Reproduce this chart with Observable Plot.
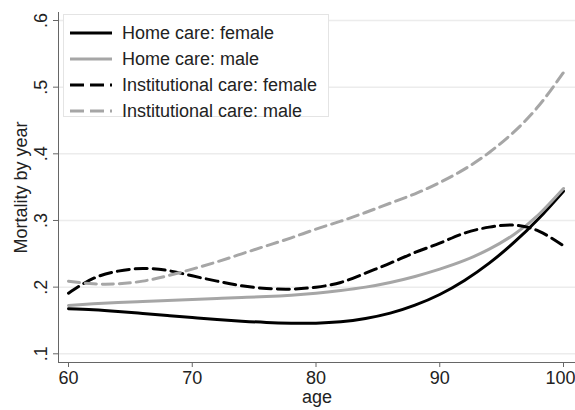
<!DOCTYPE html>
<html>
<head>
<meta charset="utf-8">
<script src="https://cdn.jsdelivr.net/npm/d3@7"></script>
<script src="https://cdn.jsdelivr.net/npm/@observablehq/plot@0.6"></script>
<style>
  body { margin: 0; background: #fff; }
  #wrap { position: relative; width: 575px; height: 410px; font-family: "Liberation Sans", Arial, sans-serif; }
  #legend { position: absolute; left: 63px; top: 14px; width: 266px; height: 103px; border: 1px solid #e4e4e4; background: #fff; box-sizing: border-box; padding-top: 5px; }
  .row { display: flex; align-items: center; height: 26px; font-size: 18px; color: #222; }
  .row svg { margin-left: 6px; margin-right: 10px; }
</style>
</head>
<body>
<div id="wrap"><div id="chart"></div><div id="legend"></div></div>
<script>
const ages = [60, 62, 64, 66, 68, 70, 72, 74, 76, 78, 80, 82, 84, 86, 88, 90, 92, 94, 96, 98, 100];
const homeFemale = [0.1675, 0.166, 0.1635, 0.1605, 0.1575, 0.1545, 0.1515, 0.149, 0.147, 0.146, 0.146, 0.148, 0.153, 0.161, 0.173, 0.189, 0.210, 0.236, 0.267, 0.303, 0.344];
const homeMale = [0.1725, 0.175, 0.177, 0.1785, 0.180, 0.1815, 0.183, 0.1845, 0.186, 0.188, 0.191, 0.195, 0.200, 0.207, 0.216, 0.227, 0.240, 0.257, 0.279, 0.309, 0.348];
const instFemale = [0.191, 0.213, 0.224, 0.228, 0.225, 0.217, 0.209, 0.202, 0.198, 0.197, 0.200, 0.207, 0.221, 0.236, 0.252, 0.266, 0.281, 0.290, 0.293, 0.284, 0.262];
const instMale = [0.209, 0.205, 0.205, 0.209, 0.217, 0.227, 0.238, 0.250, 0.262, 0.274, 0.287, 0.299, 0.312, 0.326, 0.340, 0.357, 0.377, 0.402, 0.433, 0.472, 0.522];
const seriesNames = ["Home care: female", "Home care: male", "Institutional care: female", "Institutional care: male"];
const seriesValues = [homeFemale, homeMale, instFemale, instMale];
const seriesStroke = ["#000000", "#a6a6a6", "#000000", "#a6a6a6"];
const seriesDash = [null, null, "12,6", "11,6"];
const xTicks = [60, 70, 80, 90, 100];
const yTicks = [0.1, 0.2, 0.3, 0.4, 0.5, 0.6];
const yTickLabels = [".1", ".2", ".3", ".4", ".5", ".6"];

const rows = [];
seriesNames.forEach((s, i) => ages.forEach((a, j) => rows.push({series: s, age: a, value: seriesValues[i][j]})));

const lineMarks = seriesNames.map((s, i) =>
  Plot.line(rows.filter(d => d.series === s), {
    x: "age", y: "value", curve: "natural",
    stroke: seriesStroke[i], strokeWidth: 3,
    strokeDasharray: seriesDash[i] || undefined
  })
);

const lastTick = xTicks[xTicks.length - 1];
const chart = Plot.plot({
  width: 575, height: 410,
  marginLeft: 58, marginRight: 0, marginTop: 12, marginBottom: 48,
  style: {fontFamily: '"Liberation Sans", Arial, sans-serif', fontSize: "18px", color: "#222", background: "#fff"},
  x: {domain: [60, 100], range: [68, 563]},
  y: {domain: [0.1, 0.6], range: [353.3, 20]},
  marks: [
    Plot.gridY(yTicks, {stroke: "#ececec", strokeOpacity: 1, strokeWidth: 1.5}),
    Plot.frame({anchor: "left", stroke: "#666"}),
    Plot.frame({anchor: "bottom", stroke: "#666"}),
    Plot.axisY({ticks: yTicks, tickFormat: d => yTickLabels[yTicks.indexOf(d)], tickRotate: -90, tickSize: 5, tickPadding: 7, fontSize: 18, stroke: "#666", label: "Mortality by year", labelAnchor: "center", labelArrow: "none", labelOffset: 44}),
    Plot.axisX({ticks: xTicks, tickFormat: d => d === lastTick ? "" : String(d), tickSize: 5, tickPadding: 4, fontSize: 18, stroke: "#666", label: "age", labelAnchor: "center", labelArrow: "none", labelOffset: 40}),
    Plot.axisX({ticks: [lastTick], tickSize: 0, tickPadding: 9, fontSize: 18, dx: -3, label: null}),
    ...lineMarks
  ]
});
document.getElementById("chart").appendChild(chart);

const legend = document.getElementById("legend");
seriesNames.forEach((s, i) => {
  const row = document.createElement("div");
  row.className = "row";
  const dash = seriesDash[i] ? ` stroke-dasharray="14,6"` : "";
  row.innerHTML = `<svg width="42" height="6"><line x1="0" y1="3" x2="42" y2="3" stroke="${seriesStroke[i]}" stroke-width="3"${dash}/></svg><span>${s}</span>`;
  legend.appendChild(row);
});
</script>
</body>
</html>
